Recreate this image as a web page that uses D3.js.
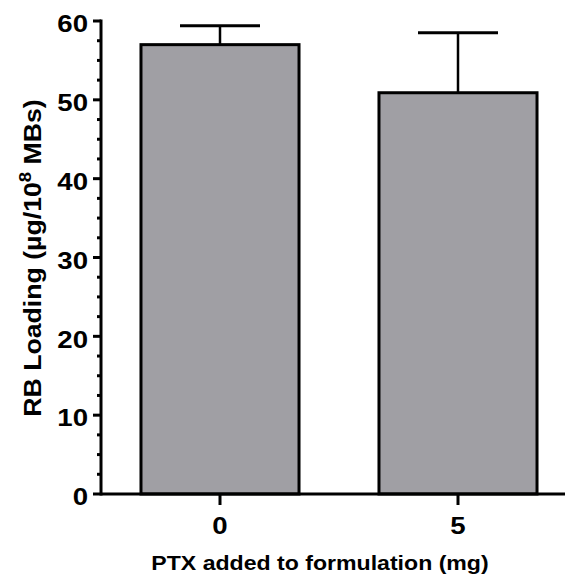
<!DOCTYPE html>
<html><head><meta charset="utf-8">
<script src="https://cdn.jsdelivr.net/npm/d3@7"></script>
<style>body{margin:0;background:#fff}svg{display:block}text{font-family:"Liberation Sans",Arial,sans-serif;font-weight:bold;fill:#000}</style>
</head><body>
<svg id="c" width="565" height="583"></svg>
<script>
const categories = ["0", "5"];
const means = [57.0, 50.9];
const errUpper = [59.4, 58.5];
const yTicks = [0, 10, 20, 30, 40, 50, 60];

const svg = d3.select("#c");
const axisX0 = 101, axisX1 = 565;
const sx = 1.15; // horizontal stretch of glyphs
const y = d3.scaleLinear().domain([0, 60]).range([494, 21]);
const x = d3.scaleBand().domain(categories).range([101, 577]).paddingInner(0.336).paddingOuter(0.168);

// bars
const g = svg.append("g");
categories.forEach((c, i) => {
  const bx = x(c), bw = x.bandwidth(), cx = bx + bw / 2;
  g.append("line").attr("x1", cx).attr("x2", cx).attr("y1", y(means[i])).attr("y2", y(errUpper[i]))
    .attr("stroke", "#000").attr("stroke-width", 2.5);
  g.append("line").attr("x1", cx - 40).attr("x2", cx + 40).attr("y1", y(errUpper[i])).attr("y2", y(errUpper[i]))
    .attr("stroke", "#000").attr("stroke-width", 3);
  g.append("rect").attr("x", bx).attr("y", y(means[i])).attr("width", bw).attr("height", y(0) - y(means[i]))
    .attr("fill", "#a09fa4").attr("stroke", "#000").attr("stroke-width", 3);
});

// y axis
const ya = svg.append("g");
ya.append("line").attr("x1", axisX0).attr("x2", axisX0).attr("y1", y(60) - 1.5).attr("y2", y(0) + 1.5)
  .attr("stroke", "#000").attr("stroke-width", 3);
d3.range(0, 60.1, 2.5).forEach(v => {
  const major = v % 10 === 0;
  ya.append("line").attr("x1", major ? 93 : 97).attr("x2", axisX0).attr("y1", y(v)).attr("y2", y(v))
    .attr("stroke", "#000").attr("stroke-width", 3);
});
yTicks.forEach(v => {
  ya.append("text").attr("transform", `translate(88,${y(v)}) scale(${sx},1)`).attr("dy", "0.47em")
    .attr("text-anchor", "end").attr("font-size", 24).text(v);
});

// x axis
const xa = svg.append("g");
xa.append("line").attr("x1", axisX0).attr("x2", axisX1).attr("y1", y(0)).attr("y2", y(0))
  .attr("stroke", "#000").attr("stroke-width", 3);
categories.forEach(c => {
  const cx = x(c) + x.bandwidth() / 2;
  xa.append("line").attr("x1", cx).attr("x2", cx).attr("y1", y(0)).attr("y2", y(0) + 11)
    .attr("stroke", "#000").attr("stroke-width", 3);
  xa.append("text").attr("transform", `translate(${cx},534) scale(${sx},1)`).attr("text-anchor", "middle")
    .attr("font-size", 24).text(c);
});

// titles
svg.append("text").attr("transform", `translate(320,570) scale(1.1,1)`).attr("text-anchor", "middle")
  .attr("font-size", 21).text("PTX added to formulation (mg)");
const yt = svg.append("text").attr("transform", "translate(41,258) rotate(-90) scale(1.16,1)")
  .attr("text-anchor", "middle").attr("font-size", 23);
yt.append("tspan").text("RB Loading (µg/10");
yt.append("tspan").attr("dy", -10).attr("font-size", 16).text("8");
yt.append("tspan").attr("dy", 10).text(" MBs)");
</script>
</body></html>
